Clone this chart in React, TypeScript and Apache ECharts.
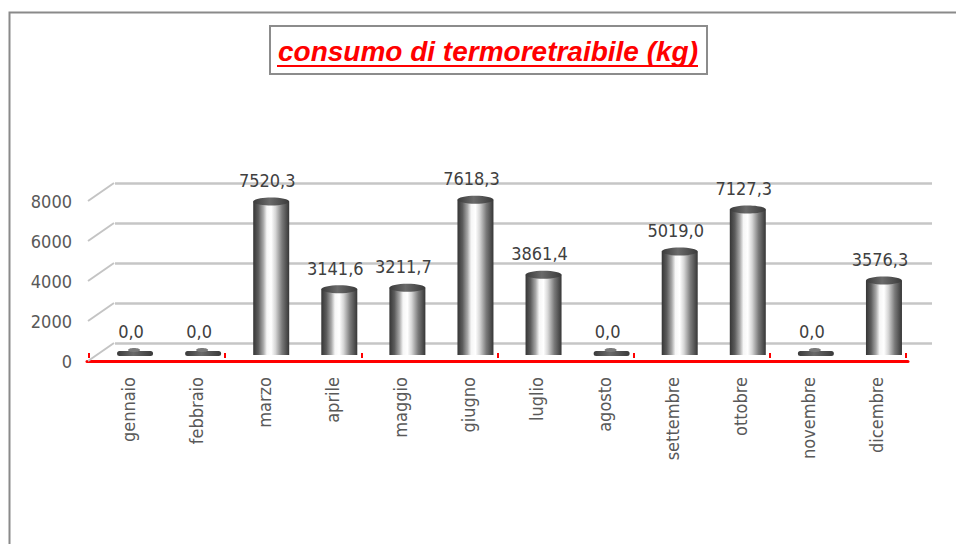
import React, { useEffect, useRef } from "react";
import * as echarts from "echarts";

const months = [
  "gennaio", "febbraio", "marzo", "aprile", "maggio", "giugno",
  "luglio", "agosto", "settembre", "ottobre", "novembre", "dicembre",
];
const consumo = [0, 0, 7520.3, 3141.6, 3211.7, 7618.3, 3861.4, 0, 5019.0, 7127.3, 0, 3576.3];
const yTicks = [0, 2000, 4000, 6000, 8000];
const titleText = "consumo di termoretraibile (kg)";

const NARROW = "'DejaVu Sans Condensed', 'Liberation Sans Narrow', sans-serif";

const fmt = (v: number) => v.toFixed(1).replace(".", ",");

const barGrad = () =>
  new echarts.graphic.LinearGradient(0, 0, 1, 0, [
    { offset: 0, color: "#353535" },
    { offset: 0.14, color: "#5c5c5c" },
    { offset: 0.28, color: "#a8a8a8" },
    { offset: 0.38, color: "#f6f6f6" },
    { offset: 0.5, color: "#ffffff" },
    { offset: 0.62, color: "#d6d6d6" },
    { offset: 0.8, color: "#7a7a7a" },
    { offset: 1, color: "#363636" },
  ]);
const capGrad = () =>
  new echarts.graphic.LinearGradient(0, 0, 1, 0, [
    { offset: 0, color: "#3a3a3a" },
    { offset: 0.45, color: "#6a6a6a" },
    { offset: 1, color: "#3a3a3a" },
  ]);

export default function App() {
  const ref = useRef<HTMLDivElement>(null);
  useEffect(() => {
    const chart = echarts.init(ref.current!, null, { renderer: "svg" });
    const yBase = { type: "value", min: 0, max: 8000, interval: 2000 };
    const hiddenY = (gi: number) => ({
      ...yBase, gridIndex: gi, axisLabel: { show: false }, axisLine: { show: false },
      axisTick: { show: false }, splitLine: { show: false },
    });
    const hiddenX = (gi: number) => ({
      type: "category", data: months, gridIndex: gi, axisLabel: { show: false },
      axisLine: { show: false }, axisTick: { show: false }, splitLine: { show: false },
    });

    const renderBar = (params: any, api: any) => {
      const i = api.value(0);
      const v = api.value(1);
      const top = api.coord([i, v]);
      const base = api.coord([i, 0]);
      const w = 36;
      const cx = top[0];
      const children: any[] = [];
      if (v > 0) {
        children.push({
          type: "rect",
          shape: { x: cx - w / 2, y: top[1], width: w, height: base[1] - top[1] + 3 },
          style: { fill: barGrad() },
        });
        children.push({
          type: "ellipse",
          shape: { cx, cy: top[1], rx: w / 2, ry: 4 },
          style: { fill: capGrad() },
        });
      } else {
        children.push({
          type: "rect",
          shape: { x: cx - w / 2, y: base[1] - 1, width: w, height: 5, r: 2.5 },
          style: { fill: capGrad() },
        });
        children.push({
          type: "ellipse",
          shape: { cx: cx - 1, cy: base[1] - 2, rx: 6, ry: 2 },
          style: { fill: "#7a7a7a" },
        });
      }
      children.push({
        type: "text",
        x: cx - 4,
        y: top[1] - 21,
        style: {
          text: fmt(v), fill: "#404040", fontSize: 18, fontFamily: NARROW,
          align: "center", verticalAlign: "middle",
        },
      });
      return { type: "group", children };
    };

    const renderDiag = (params: any, api: any) => {
      const v = api.value(1);
      const p = api.coord([0, v]);
      const x0 = params.coordSys.x - 1;
      return {
        type: "line",
        shape: { x1: x0, y1: p[1], x2: x0 + 26, y2: p[1] - 18 },
        style: { stroke: "#c4c4c4", lineWidth: 2 },
      };
    };

    const option: any = {
      animation: false,
      backgroundColor: "#ffffff",
      grid: [
        { left: 89, top: 201, width: 817, height: 160 }, // front: y labels, ticks
        { left: 87, top: 201, width: 821, height: 160 }, // red axis line
        { left: 94, top: 201, width: 817, height: 160 }, // category labels
        { left: 101, top: 192, width: 817, height: 160 }, // bars (mid depth)
        { left: 115, top: 183, width: 817, height: 160 }, // back wall gridlines
      ],
      xAxis: [
        {
          type: "category", data: months, gridIndex: 0, offset: -3,
          axisLine: { show: false }, axisLabel: { show: false },
          axisTick: { show: true, inside: true, length: 5, lineStyle: { color: "#ff0000", width: 2 } },
        },
        {
          type: "category", data: months, gridIndex: 1, offset: 1,
          axisLine: { show: true, lineStyle: { color: "#ff0000", width: 3 } },
          axisTick: { show: false }, axisLabel: { show: false },
        },
        {
          type: "category", data: months, gridIndex: 2,
          axisLine: { show: false }, axisTick: { show: false },
          axisLabel: {
            show: true, rotate: 90, interval: 0, margin: 16, color: "#595959",
            fontSize: 18, fontFamily: NARROW,
          },
        },
        hiddenX(3),
        hiddenX(4),
      ],
      yAxis: [
        {
          ...yBase, gridIndex: 0, axisLine: { show: false }, axisTick: { show: false },
          splitLine: { show: false },
          axisLabel: {
            show: true, margin: 17, color: "#595959", fontSize: 18, fontFamily: NARROW,
            formatter: (v: number) => String(v),
          },
        },
        hiddenY(1),
        hiddenY(2),
        hiddenY(3),
        {
          ...yBase, gridIndex: 4, axisLabel: { show: false }, axisLine: { show: false },
          axisTick: { show: false },
          splitLine: { show: true, lineStyle: { color: "#c6c6c6", width: 2.5 } },
        },
      ],
      series: [
        {
          type: "custom", name: "diag", xAxisIndex: 0, yAxisIndex: 0,
          data: yTicks.map((v) => [0, v]), renderItem: renderDiag, silent: true,
        },
        {
          type: "custom", name: "consumo", xAxisIndex: 3, yAxisIndex: 3,
          data: consumo.map((v, i) => [i, v]), renderItem: renderBar, z: 5,
        },
      ],
      graphic: [
        {
          type: "rect", left: 7, top: 10,
          shape: { x: 0, y: 0, width: 1000, height: 600 },
          style: { fill: "none", stroke: "#8a8a8a", lineWidth: 2 },
          silent: true,
        },
        {
          type: "rect",
          shape: { x: 270, y: 26, width: 437, height: 48 },
          style: { fill: "#ffffff", stroke: "#8c8c8c", lineWidth: 2 },
          z: 10,
        },
        {
          type: "text", x: 488, y: 51, z: 11,
          style: {
            text: titleText, fill: "#ff0000", fontSize: 28, fontWeight: "bold",
            fontStyle: "italic", fontFamily: "'Liberation Sans', Arial, sans-serif",
            align: "center", verticalAlign: "middle",
          },
        },
        {
          type: "line", z: 11,
          shape: { x1: 277, y1: 66, x2: 698, y2: 66 },
          style: { stroke: "#ff0000", lineWidth: 2 },
        },
      ],
    };
    chart.setOption(option);
    return () => chart.dispose();
  }, []);
  return (
    <div
      ref={ref}
      style={{ position: "absolute", left: 0, top: 0, width: 956, height: 544, background: "#fff" }}
    />
  );
}
